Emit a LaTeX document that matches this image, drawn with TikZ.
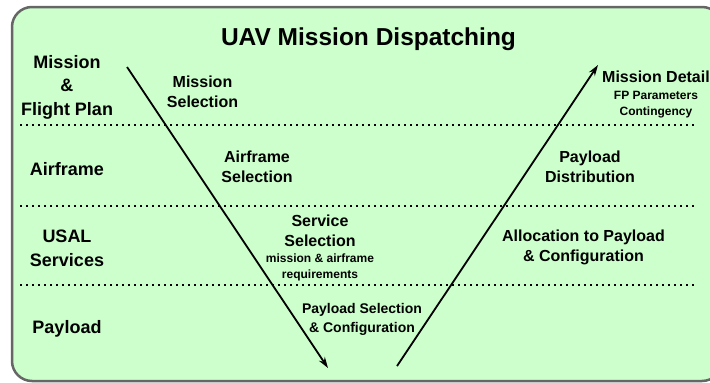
\documentclass[tikz,border=0pt]{standalone}
\usepackage{fontspec}
\setmainfont{Liberation Sans}
\usetikzlibrary{arrows.meta}
\definecolor{lanegreen}{RGB}{204,255,204}
\definecolor{framegray}{RGB}{102,102,102}
\begin{document}
\begin{tikzpicture}[x=1pt,y=-1pt,
    lanelbl/.style={anchor=base,align=center,font=\fontsize{18}{23.5}\selectfont\bfseries},
    phaselbl/.style={anchor=base,align=center,font=\fontsize{16}{20}\selectfont\bfseries},
    notelbl/.style={anchor=base,align=center,font=\fontsize{12}{15.5}\selectfont\bfseries},
    sep/.style={line width=1.8pt,dash pattern=on 1.8pt off 4.2pt},
    flow/.style={line width=1.8pt,-{Stealth[length=11pt,width=7pt]}}]
  \path[use as bounding box,clip] (0,0) rectangle (710,383);
  \draw[line width=2.5pt,draw=framegray,fill=lanegreen,rounded corners=20pt] (12,7) rectangle (722,381);
  \node[anchor=base,font=\fontsize{24.5}{28}\selectfont\bfseries] (title) at (368.5,45) {UAV Mission Dispatching};
  % lanes
  \node[lanelbl] (mission) at (67,115) {Mission\\\&\\Flight Plan};
  \node[lanelbl] (airframe) at (67,175) {Airframe};
  \node[lanelbl] (usal) at (67,266) {USAL\\Services};
  \node[lanelbl] (payload) at (67,333) {Payload};
  \foreach \y/\n in {125/a,206/b,285/c}{
    \coordinate (sep\n w) at (20,\y);
    \coordinate (sep\n e) at (695,\y);
    \draw[sep] (sep\n w) -- (sep\n e);
  }
  % down leg
  \node[phaselbl] (missel) at (202.5,107) {Mission\\Selection};
  \node[phaselbl] (airsel) at (257,182) {Airframe\\Selection};
  \node[phaselbl] (servsel) at (320,246) {Service\\Selection};
  \node[notelbl] (servreq) at (320,278) {mission \& airframe\\requirements};
  \node[phaselbl,font=\fontsize{14}{19}\selectfont\bfseries] (paysel) at (362,332) {Payload Selection\\\& Configuration};
  % up leg
  \node[phaselbl] (alloc) at (583.5,261) {Allocation to Payload\\\& Configuration};
  \node[phaselbl] (dist) at (590,182) {Payload\\Distribution};
  \node[phaselbl] (detail) at (656,82) {Mission Detail};
  \node[notelbl] (detailsub) at (656,115) {FP Parameters\\Contingency};
  \coordinate (dtop) at (127,67);
  \coordinate (dbot) at (328,368);
  \coordinate (ubot) at (397,366);
  \coordinate (utop) at (598,65);
  \draw[flow] (dtop) -- (dbot);
  \draw[flow] (ubot) -- (utop);
\end{tikzpicture}
\end{document}
